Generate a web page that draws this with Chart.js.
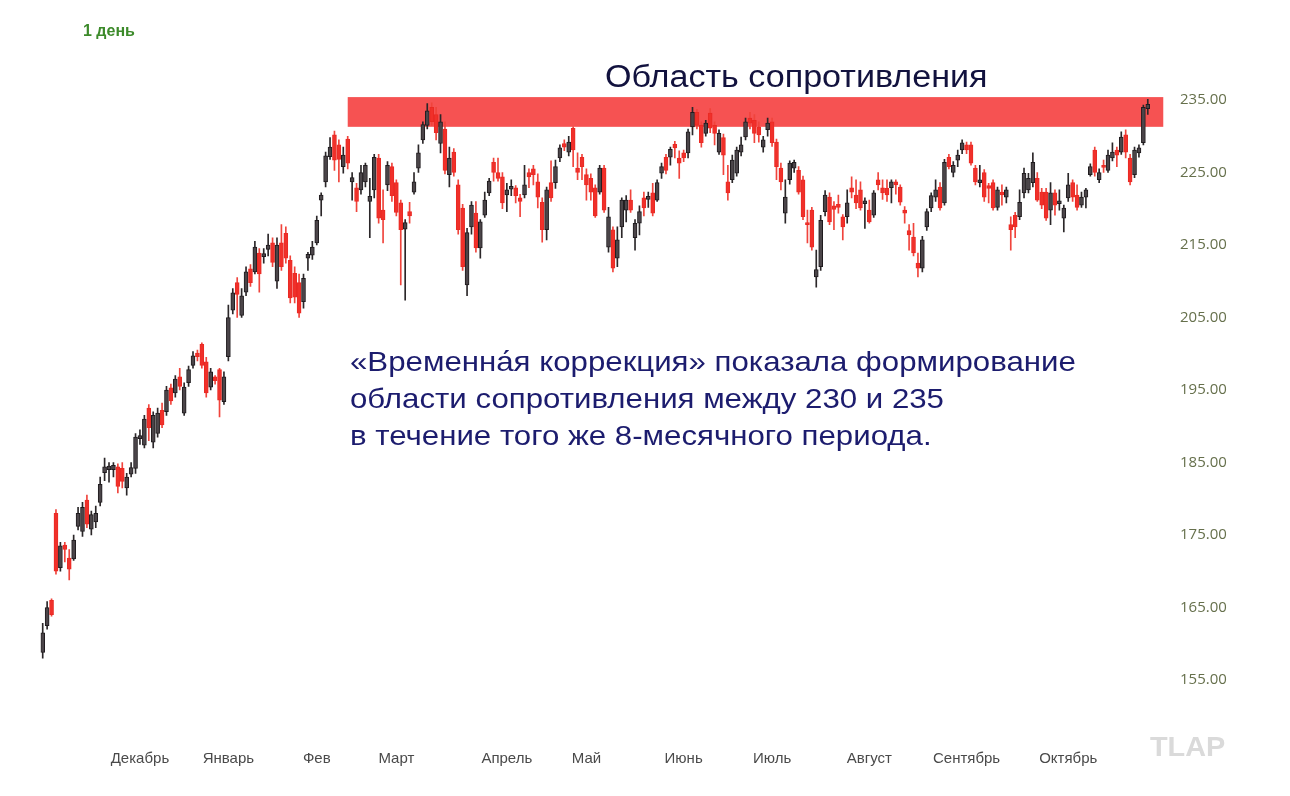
<!DOCTYPE html>
<html lang="ru">
<head>
<meta charset="utf-8">
<title>Область сопротивления</title>
<script src="https://cdn.jsdelivr.net/npm/chart.js@4.4.1/dist/chart.umd.min.js"></script>
<style>
    html, body { margin: 0; padding: 0; background: #ffffff; }
    #wrap { position: relative; width: 1290px; height: 796px; }
</style>
</head>
<body>
<div id="wrap"><canvas id="priceChart" width="1290" height="796"></canvas></div>
<script>
// --- Data (one entry per trading day) ---
const opens = [
    158.8,162.5,166,178,170.5,173.6,171.8,171.7,176.2,175.5,179.8,175.8,176.8,179.5,
    183.6,184,184,184.4,184.2,181.5,183.4,184.2,188.3,187.4,192.5,187.8,189,192.2,
    192,195.3,194.6,196.8,191.8,196,198.4,200.1,201.3,198.9,195.4,196.8,197.8,193.4,
    199.6,206,209.8,205.3,208.5,211.7,211.3,213.9,213.4,214.4,215.3,210,215.3,216.6,
    212.9,211.1,209.8,207.2,213.2,213.6,215.3,221.2,223.7,227.2,230.2,228.8,225.8,229.6,
    223.7,222.9,222.6,223.7,221,222.6,227,219.8,223.3,225.8,223.6,220.8,217.2,219.6,
    222.3,225.6,229.5,231.5,234,233,229,231,224.7,227.8,223.3,220.1,209.5,217.5,
    219.4,214.6,219.1,222.2,226.4,225,224.4,221.9,222.7,222.9,221.5,221.9,225,225.5,
    223.7,220.9,217.1,223.6,223.6,227,229,227.8,231.1,225.6,227.1,224.7,224.2,222.9,
    222.3,225.6,214.7,217.1,213.2,217.5,219.8,221.2,216,218,221.5,221.3,222.2,221.2,
    224.9,227.1,227.1,228.9,227,227.7,227.7,231.3,233.3,231.5,230.4,233.2,231.5,227.8,
    229.8,223.7,224,224.9,227.8,229.9,232.5,232.2,231.3,228.5,230.9,232,229.2,225.6,
    219.4,224,225.6,225.3,224,218.1,219.8,210.6,212,219.6,221.6,220.4,220.6,218.9,
    218.9,222.9,221.9,222.6,220.7,219.8,219.1,224,222.9,222.8,222.9,223.7,223,219.8,
    217,216.1,212.5,211.8,217.5,220.1,221.6,223,220.8,227.1,225,226.7,228.1,228.8,
    228.8,225.6,223.6,225,223.2,223.6,220.2,222.3,221.6,217.8,219.1,218.9,222.2,222.6,
    223.6,224.2,222.3,222.3,219.8,222.2,220.7,218.7,221.5,223.6,221.9,220.5,221.6,224.7,
    228.1,224,226,225.3,227,228.1,227.8,230.2,227,224.7,227.7,229.1,233.8
];
const closes = [
    161.5,165,164,170,173.5,173,170.3,174.3,178,178.8,176.5,177.8,178,182,
    184.4,184.5,184.6,181.7,182.4,183,184.3,188.5,188.7,191,189.8,191.5,191.8,190.2,
    195,193.5,196.5,195.5,195.4,197.8,199.7,199.6,198.4,194.6,197.5,196.3,193.6,196.8,
    205,208.4,208.2,208,211.3,209.8,214.7,211,213.8,215,212.6,215,212,213.2,
    207.7,207.8,205.6,210.4,213.7,214.7,218.4,221.9,227.3,228.5,226.7,226.8,227.4,226.3,
    224.3,221,225,226,221.7,227.1,218.7,218.5,226,221.8,219.5,217.1,218.1,219,
    223.7,227.7,231.6,233.5,232,230.5,232,225.3,227,225,217.1,212,216.7,220.5,
    214.6,218.2,221.2,223.8,225,224.2,220.8,222.6,223.1,221.8,221,223.3,224.4,224.7,
    221.6,217.1,222.6,221.5,225.8,228.4,228.5,229.2,228.1,225,225.8,223.3,222.3,219,
    225.6,219.8,218.9,211.8,215.7,221.2,221.2,219.8,218,219.6,220.1,221.7,219.4,223.6,
    225.8,225.3,228.2,228.4,226.3,227,230.6,233.3,231.5,229.1,231.8,231.1,230.4,230.4,
    227.4,222.2,226.7,228.1,228.8,232,231.8,230.4,230.2,229.5,231.8,229.1,225.8,223.7,
    221.6,226.3,226.4,222.3,218.9,217.8,214.7,211.6,218.4,221.9,218.2,219.9,220.2,217.5,
    220.8,222.3,220.8,220.1,221.1,218.2,222.2,223.3,222.2,221.9,223.7,223.3,220.9,219.4,
    216.4,213.9,211.8,215.7,219.6,221.8,222.6,220.1,226.4,225.8,226,227.4,229.1,228.1,
    226.3,223.7,224,221.6,222.8,220.1,222.6,221.9,222.6,217.1,217.5,220.9,224.9,224.2,
    226.4,221.2,220.5,218.7,222.2,220.5,221.1,220.1,223.3,221.6,220.2,221.6,222.6,225.8,
    225,225,225.7,227.4,227.8,227.4,229.9,227.8,223.7,228.1,228.4,234,234.4
];
const highs = [
    162.8,165.8,166.2,178.5,174,174,173,175,178.8,179.5,180.5,178.3,179,183,
    185.6,185,185,184.8,185,183.5,185,189,189.5,191.5,193,192,192.5,193.2,
    195.5,195.8,197,198,196,198.3,200.3,200.5,201.5,199.5,198,197,198,197.5,
    206.7,209,210.5,209,212,212.3,215.5,214.5,214.5,216.5,216,216,217.8,217.5,
    213.5,212,211,211,214,215.5,219,222.2,227.8,229.8,230.7,229.5,228.5,230,
    225,223.5,226,226.3,224.2,227.5,227.5,222.6,226.5,226.3,224,221.2,218.5,220.9,
    225,228.8,232,234.5,234.6,234,233,232,228.5,228.3,224,220.6,217.3,221,
    221,218.5,222.3,224.2,227,227,225,223.5,224,223.2,222,226,225.5,226,
    224.8,221.5,223,226.6,226.7,228.8,229.5,230,231.3,227.7,227.5,225.5,224.8,223.3,
    226,226,220.2,217.5,217.5,221.5,221.8,222.6,218.5,220.4,222.3,222.3,223.5,224,
    226.3,227.5,228.5,229.3,228,228.1,231,234,233.7,232,232.2,233.8,232,230.9,
    230.3,226,227.4,228.5,229.9,232.5,233.3,233,232,230,232.5,232.5,229.6,226.3,
    224,226.6,226.7,225.8,224.5,219.8,220.2,214.3,219.1,222.5,222.2,221,221.9,219.2,
    222.6,224.4,224,223.7,221.5,221.2,222.5,225,224,224,224,224,223.3,220.3,
    217.8,218,213.9,216.2,220,222.2,224,223.6,226.8,227.5,226.5,228.1,229.5,229.2,
    229.2,226,226,225.4,223.5,224,223,223.3,223,218.9,219.5,222.6,225.6,224.9,
    227.7,225,222.8,222.8,223.6,222.6,222.6,220.5,224.9,224,223.3,222.3,222.8,226.2,
    228.5,225.5,226.7,228.1,229.1,228.5,230.6,230.9,227.5,228.5,228.8,234.3,235.1
];
const lows = [
    158,162,163.8,169.6,170,171.3,168.8,171.5,175.7,174.8,176,175,176,179,
    182.5,182.3,183,180.8,181.5,180.5,183,183.5,187.5,187,188,187,188.5,189.8,
    191.5,193,194,195,191.5,195.5,198,199,198,194,195,195.8,191.3,193,
    199,205.5,205,205,208,209.3,211,208.5,212.5,213.5,212,209,211.5,212.5,
    207,207,205,206.3,211.5,213,215,219,223,226.8,225.3,223.7,224.9,225.5,
    221.2,219.6,222,223,216,221.5,218,215.3,222.5,221,219,209.5,207.4,218,
    222,225,229,231,231.5,229.5,227.7,224.8,223,224.5,216.5,211.5,208,216.5,
    214,213.2,218.8,221.8,223.8,223.8,220,219.6,221.8,220.8,218.9,221.5,222.9,223.3,
    220.1,215.4,215.7,221,222.8,226.5,228,227.3,225.8,224,224,221.2,221.2,218.8,
    222,219.5,214,211.3,212,216,218.2,219.5,214.3,216.4,219,220.2,219,221,
    224.2,224.8,226,227,224.2,226.5,227,230.2,231,228.5,230,230.5,228.8,227.5,
    224.7,221.2,223.6,224.5,227.3,229.5,231,229.1,229.2,227.8,230,228.6,224,222.6,
    218,223.4,225,222,218.5,215.3,214.3,209.2,211.5,219,217.8,217.1,219.4,215.7,
    218,221.5,220,219.8,217.3,218,218.8,222.6,221.3,221,220.8,222,220.5,218,
    214.3,213.5,210.6,211.3,217,219.6,221,219.8,220.5,225.5,224.4,225.8,227.6,227.6,
    226,223.3,223,221,220.8,219.8,219.8,220.5,220.8,214.3,216,218.5,221.5,222.2,
    223,221,220,218.4,217.8,219.1,219.8,216.8,221,221,219.8,220.2,220.1,224.5,
    224.5,223.6,225,225,226.6,225.8,227.5,227,223.3,224.3,227.1,228.8,233
];

// Подписи месяцев и номер свечи, под которой они стоят
const monthNames = ['Декабрь', 'Январь', 'Фев', 'Март', 'Апрель', 'Май', 'Июнь', 'Июль', 'Август', 'Сентябрь', 'Октябрь'];
const monthAt    = [22, 42, 62, 80, 105, 123, 145, 165, 187, 209, 232];

const yTicks = [155, 165, 175, 185, 195, 205, 215, 225, 235];

// Область сопротивления (по цене) и свечи, между которыми она лежит
const zoneLow = 231.3;
const zoneHigh = 235.4;
const zoneFrom = 69;
const zoneTo = 253.5;

// --- Colors ---
const UP_FILL = '#4b4549';
const UP_EDGE = '#1f1b1e';
const DOWN_FILL = '#f0302a';
const DOWN_EDGE = '#ea2a24';

const days = opens.map((_, i) => String(i));
const isUp = opens.map((o, i) => closes[i] >= o);

// Полоса сопротивления под свечами
const zonePlugin = {
    id: 'zone',
    beforeDatasetsDraw(chart) {
        const { ctx, scales: { x, y } } = chart;
        const x0 = x.getPixelForValue(zoneFrom);
        const x1 = x.getPixelForValue(zoneTo);
        const y0 = y.getPixelForValue(zoneHigh);
        const y1 = y.getPixelForValue(zoneLow);
        ctx.save();
        ctx.fillStyle = '#f65252';
        ctx.fillRect(x0, y0, x1 - x0, y1 - y0);
        ctx.restore();
    }
};

// Текст, немного растянутый по ширине, как на картинке
function wideText(ctx, text, x, y, sx) {
    ctx.save();
    ctx.translate(x, y);
    ctx.scale(sx, 1);
    ctx.fillText(text, 0, 0);
    ctx.restore();
}

// Подписи поверх графика
const textPlugin = {
    id: 'texts',
    afterDraw(chart) {
        const ctx = chart.ctx;
        ctx.save();
        ctx.textBaseline = 'middle';
        ctx.textAlign = 'left';

        ctx.fillStyle = '#3c8a2a';
        ctx.font = "bold 16px 'Liberation Sans', Arial, sans-serif";
        ctx.fillText('1 день', 83, 32);

        ctx.fillStyle = '#12123e';
        ctx.font = "31px 'Liberation Sans', Arial, sans-serif";
        wideText(ctx, 'Область сопротивления', 605, 78, 1.1);

        ctx.fillStyle = '#1c1c6e';
        ctx.font = "28px 'Liberation Sans', Arial, sans-serif";
        wideText(ctx, '«Временна\u0301я коррекция» показала формирование', 350, 363, 1.115);
        wideText(ctx, 'области сопротивления между 230 и 235', 350, 400, 1.115);
        wideText(ctx, 'в течение того же 8-месячного периода.', 350, 437, 1.115);

        ctx.fillStyle = '#dadada';
        ctx.font = "bold 28px 'Liberation Sans', Arial, sans-serif";
        wideText(ctx, 'TLAP', 1150, 748, 1.03);
        ctx.restore();
    }
};

const ctx = document.getElementById('priceChart');

new Chart(ctx, {
    type: 'bar',
    data: {
        labels: days,
        datasets: [
            {
                label: 'Тени',
                data: lows.map((l, i) => [l, highs[i]]),
                backgroundColor: isUp.map(u => u ? '#2b2729' : '#f0443c'),
                barThickness: 1,
                grouped: false,
                order: 2
            },
            {
                label: 'Тела',
                data: opens.map((o, i) => [o, closes[i]]),
                backgroundColor: isUp.map(u => u ? UP_FILL : DOWN_FILL),
                borderColor: isUp.map(u => u ? UP_EDGE : DOWN_EDGE),
                borderWidth: 1,
                borderSkipped: false,
                barThickness: 4,
                grouped: false,
                order: 1
            }
        ]
    },
    options: {
        responsive: false,
        animation: false,
        layout: { padding: { left: 40.5, right: 0, top: 63.75, bottom: 0 } },
        plugins: {
            legend: { display: false },
            tooltip: { enabled: false }
        },
        scales: {
            x: {
                type: 'category',
                offset: true,
                grid: { display: false, drawTicks: false },
                border: { display: false },
                afterFit: (scale) => { scale.height = 79.75; },
                ticks: {
                    autoSkip: false,
                    maxRotation: 0,
                    minRotation: 0,
                    padding: 34,
                    color: '#4a4a4a',
                    font: { family: "'Liberation Sans', Arial, sans-serif", size: 15 },
                    callback: function(value, index) {
                        const k = monthAt.indexOf(index);
                        return k >= 0 ? monthNames[k] : '';
                    }
                }
            },
            y: {
                position: 'right',
                min: 150,
                max: 240,
                grid: { display: false, drawTicks: false },
                border: { display: false },
                afterFit: (scale) => { scale.width = 140; },
                afterBuildTicks: (scale) => {
                    scale.ticks = yTicks.map(v => ({ value: v }));
                },
                ticks: {
                    padding: 30,
                    color: '#66704c',
                    font: { family: "'Open Sans', sans-serif", size: 15 },
                    callback: function(value) {
                        return Number(value).toFixed(2);
                    }
                }
            }
        }
    },
    plugins: [zonePlugin, textPlugin]
});
</script>
</body>
</html>
